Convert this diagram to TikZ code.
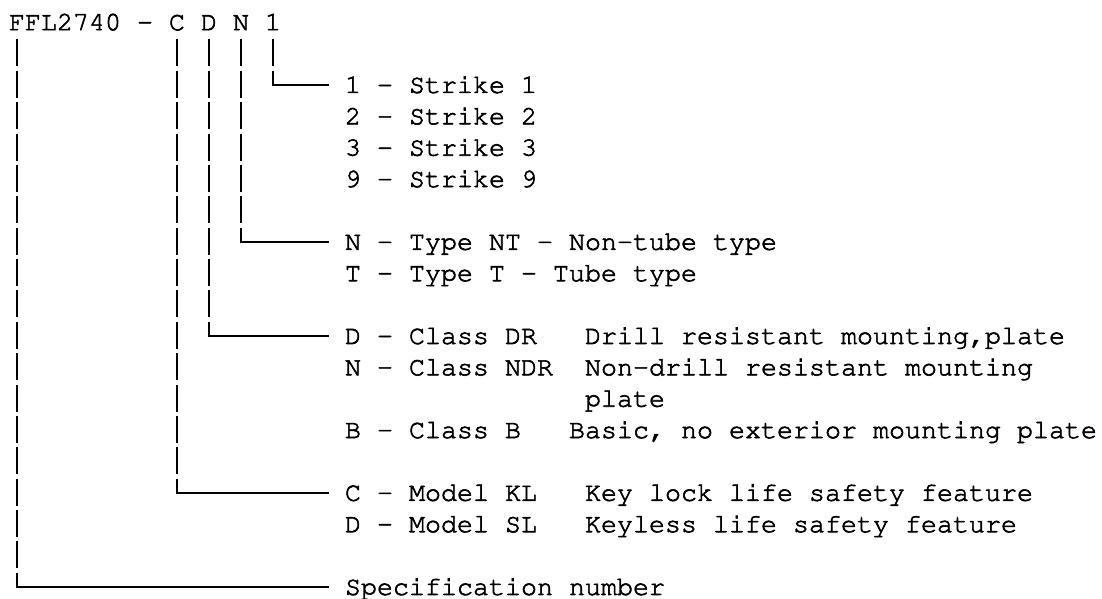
\documentclass[tikz,border=0pt]{standalone}
\usepackage{fontspec}
\usepackage[T1,TU]{fontenc}
\usetikzlibrary{calc}
\newcommand\courierfont{\fontencoding{T1}\fontfamily{pcr}\fontseries{m}\fontshape{n}}
\begin{document}
\begin{tikzpicture}[x=0.75pt,y=-0.75pt,
  txt/.style={font=\courierfont\fontsize{20pt}{24pt}\selectfont, inner sep=0pt, outer sep=0pt,
              anchor=base west, text height=15pt, text depth=3pt,
              execute at begin node={\special{pdf:literal direct 2 Tr 0.45 w}},
              execute at end node={\special{pdf:literal direct 0 Tr}}},
  vbar/.style={line width=1.4pt, dash pattern=on 20.25pt off 3.28125pt},
  elbow/.style={line width=1.4pt}]
\useasboundingbox (0,0) rectangle (1102,599);
% top line
\node[txt] (ffl) at (9,30.2) {FFL2740 -};
\node[txt] (kC) at (169,30.2) {C};
\node[txt] (kD) at (201,30.2) {D};
\node[txt] (kN) at (233,30.2) {N};
\node[txt] (k1) at (265,30.2) {1};
% labels
\node[txt] (l1) at (345,92.95) {1 - Strike 1};
\node[txt] (l2) at (345,124.325) {2 - Strike 2};
\node[txt] (l3) at (345,155.7) {3 - Strike 3};
\node[txt] (l9) at (345,187.075) {9 - Strike 9};
\node[txt] (lN) at (345,249.825) {N - Type NT - Non-tube type};
\node[txt] (lT) at (345,281.2) {T - Type T - Tube type};
\node[txt] (lD) at (345,343.95) {D - Class DR};
\node[txt] (dD) at (585,343.95) {Drill resistant mounting,plate};
\node[txt] (lND) at (345,375.325) {N - Class NDR};
\node[txt] (dND) at (585,375.325) {Non-drill resistant mounting};
\node[txt] (dND2) at (585,406.7) {plate};
\node[txt] (lB) at (345,438.075) {B - Class B};
\node[txt] (dB) at (569,438.075) {Basic, no exterior mounting plate};
\node[txt] (lC) at (345,500.825) {C - Model KL};
\node[txt] (dC) at (585,500.825) {Key lock life safety feature};
\node[txt] (lSL) at (345,532.2) {D - Model SL};
\node[txt] (dSL) at (585,532.2) {Keyless life safety feature};
\node[txt] (lS) at (345,594.95) {Specification number};
% bar tops
\coordinate (tF) at ([xshift=6pt,yshift=-3.9pt]ffl.south west);
\coordinate (tC) at ([yshift=-3.9pt]kC.south);
\coordinate (tD) at ([yshift=-3.9pt]kD.south);
\coordinate (tN) at ([yshift=-3.9pt]kN.south);
\coordinate (t1) at ([yshift=-3.9pt]k1.south);
% connectors
\foreach \t/\l in {t1/l1, tN/lN, tD/lD, tC/lC, tF/lS}{
  \draw[vbar] (\t) -- ($(\t |- \l.west)+(0,-14.2)$);
  \draw[elbow] ($(\t |- \l.west)+(0,-14.2)$) -- (\t |- \l.west) -- ([xshift=-12pt]\l.west);
}
\end{tikzpicture}
\end{document}
